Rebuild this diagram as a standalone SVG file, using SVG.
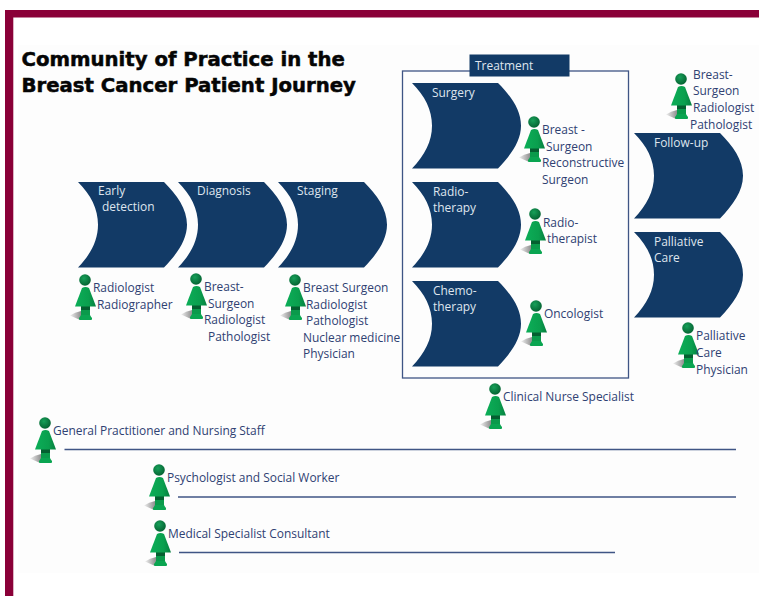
<svg xmlns="http://www.w3.org/2000/svg" xmlns:xlink="http://www.w3.org/1999/xlink" width="759" height="596" viewBox="0 0 759 596">
<style>
text{font-family:"Open Sans","Noto Sans","Liberation Sans",sans-serif;font-size:11.95px;fill:#2f4172}
.w{fill:#dfe5ee}
.title{font-family:"DejaVu Sans","Liberation Sans",sans-serif;font-weight:700;font-size:19.7px;fill:#050505;stroke:#050505;stroke-width:.5}
.chev{fill:#123a66}
.line{stroke:#3f5585;stroke-width:1.3;fill:none}
</style>
<defs>
<linearGradient id="g" x1="0" x2="1" y1="0" y2="0"><stop offset="0" stop-color="#0cae58"/><stop offset=".65" stop-color="#0a9f4e"/><stop offset="1" stop-color="#067f40"/></linearGradient>
<radialGradient id="h" cx=".4" cy=".35" r=".7"><stop offset="0" stop-color="#17a059"/><stop offset="1" stop-color="#045f30"/></radialGradient>
<linearGradient id="s" x1="0" x2="1"><stop offset="0" stop-color="#f0f0f0"/><stop offset="1" stop-color="#8f8f8f"/></linearGradient>
<path id="chevron" class="chev" d="M0 0H86C99 13 109 27 109 42.750C109 58 99 72 86 85.500H0C13 72 20 58 20 42.750C20 27 13 13 0 0Z"/>
<g id="person">
<path d="M-15 35.500Q-10 32 -4 31V39.500H-6Z" fill="url(#s)"/>
<rect x="-4" y="25" width="9" height="13" fill="#0a9a4b"/>
<path d="M-4 25H5V30H-4Z" fill="#045f30"/>
<path d="M-4 35H5Q6 37 7 38Q7.500 40 6 40H-5Q-6.500 40 -6 38Q-5 37 -4 35Z" fill="#0aa551"/>
<path d="M-3 8Q0.500 6 4 8L11 26.500H-10Z" fill="url(#g)"/>
<circle r="5.800" fill="url(#h)"/>
</g>
</defs>
<rect width="759" height="596" fill="#fff"/>
<rect x="18" y="45" width="741" height="528" fill="#fdfdfd"/>
<path d="M5 596V10H759V17.500H13.300V596Z" fill="#8a0038"/>
<text class="title" x="21.500" y="65.500">Community of Practice in the</text>
<text class="title" x="21.500" y="91.500">Breast Cancer Patient Journey</text>

<g id="connectors">
<rect x="402.500" y="71" width="226" height="307" class="line"/>
<line class="line" x1="64.500" y1="449.500" x2="736" y2="449.500"/>
<line class="line" x1="178" y1="497" x2="736" y2="497"/>
<line class="line" x1="179" y1="552.500" x2="615" y2="552.500"/>
</g>

<g id="treatment-label"><rect x="469.500" y="54.500" width="100" height="22" fill="#123a66"/><text class="w" x="475" y="70">Treatment</text></g>

<g id="early-detection"><use xlink:href="#chevron" x="78" y="182"/><text class="w" x="98" y="195">Early</text><text class="w" x="102" y="211">detection</text></g>
<g id="diagnosis"><use xlink:href="#chevron" x="178" y="182"/><text class="w" x="197" y="195">Diagnosis</text></g>
<g id="staging"><use xlink:href="#chevron" x="278" y="182"/><text class="w" x="297" y="195">Staging</text></g>
<g id="surgery"><use xlink:href="#chevron" x="412" y="83"/><text class="w" x="432" y="97">Surgery</text></g>
<g id="radiotherapy"><use xlink:href="#chevron" x="412" y="182"/><text class="w" x="433" y="196">Radio-</text><text class="w" x="433" y="212">therapy</text></g>
<g id="chemotherapy"><use xlink:href="#chevron" x="412" y="281"/><text class="w" x="433" y="295">Chemo-</text><text class="w" x="433" y="311">therapy</text></g>
<g id="follow-up"><use xlink:href="#chevron" x="634" y="133"/><text class="w" x="654" y="147">Follow-up</text></g>
<g id="palliative"><use xlink:href="#chevron" x="634" y="232"/><text class="w" x="654" y="246">Palliative</text><text class="w" x="654" y="262">Care</text></g>

<g id="p-early"><use xlink:href="#person" x="85" y="280"/><text x="93" y="292">Radiologist</text><text x="97" y="309">Radiographer</text></g>
<g id="p-diagnosis"><use xlink:href="#person" x="196" y="279"/><text x="204" y="291">Breast-</text><text x="208" y="308">Surgeon</text><text x="204" y="324">Radiologist</text><text x="208" y="341">Pathologist</text></g>
<g id="p-staging"><use xlink:href="#person" x="295" y="280"/><text x="303" y="292">Breast Surgeon</text><text x="306" y="309">Radiologist</text><text x="306" y="325">Pathologist</text><text x="303" y="342">Nuclear medicine</text><text x="303" y="358">Physician</text></g>
<g id="p-surgery"><use xlink:href="#person" x="534" y="122"/><text x="542" y="134">Breast -</text><text x="546" y="151">Surgeon</text><text x="542" y="167">Reconstructive</text><text x="542" y="184">Surgeon</text></g>
<g id="p-radio"><use xlink:href="#person" x="535" y="214"/><text x="543" y="227">Radio-</text><text x="547" y="243">therapist</text></g>
<g id="p-onco"><use xlink:href="#person" x="536" y="306"/><text x="544" y="318">Oncologist</text></g>
<g id="p-followup"><use xlink:href="#person" x="681" y="79"/><text x="693" y="79">Breast-</text><text x="693" y="95">Surgeon</text><text x="693" y="112">Radiologist</text><text x="690" y="129">Pathologist</text></g>
<g id="p-palliative"><use xlink:href="#person" x="688" y="328"/><text x="696" y="340">Palliative</text><text x="696" y="357">Care</text><text x="696" y="374">Physician</text></g>
<g id="p-cns"><use xlink:href="#person" x="495" y="389"/><text x="503" y="401">Clinical Nurse Specialist</text></g>
<g id="p-gp"><use xlink:href="#person" x="45" y="423"/><text x="53" y="435">General Practitioner and Nursing Staff</text></g>
<g id="p-psych"><use xlink:href="#person" x="159" y="470"/><text x="167" y="482">Psychologist and Social Worker</text></g>
<g id="p-med"><use xlink:href="#person" x="160" y="526"/><text x="168" y="538">Medical Specialist Consultant</text></g>
</svg>
